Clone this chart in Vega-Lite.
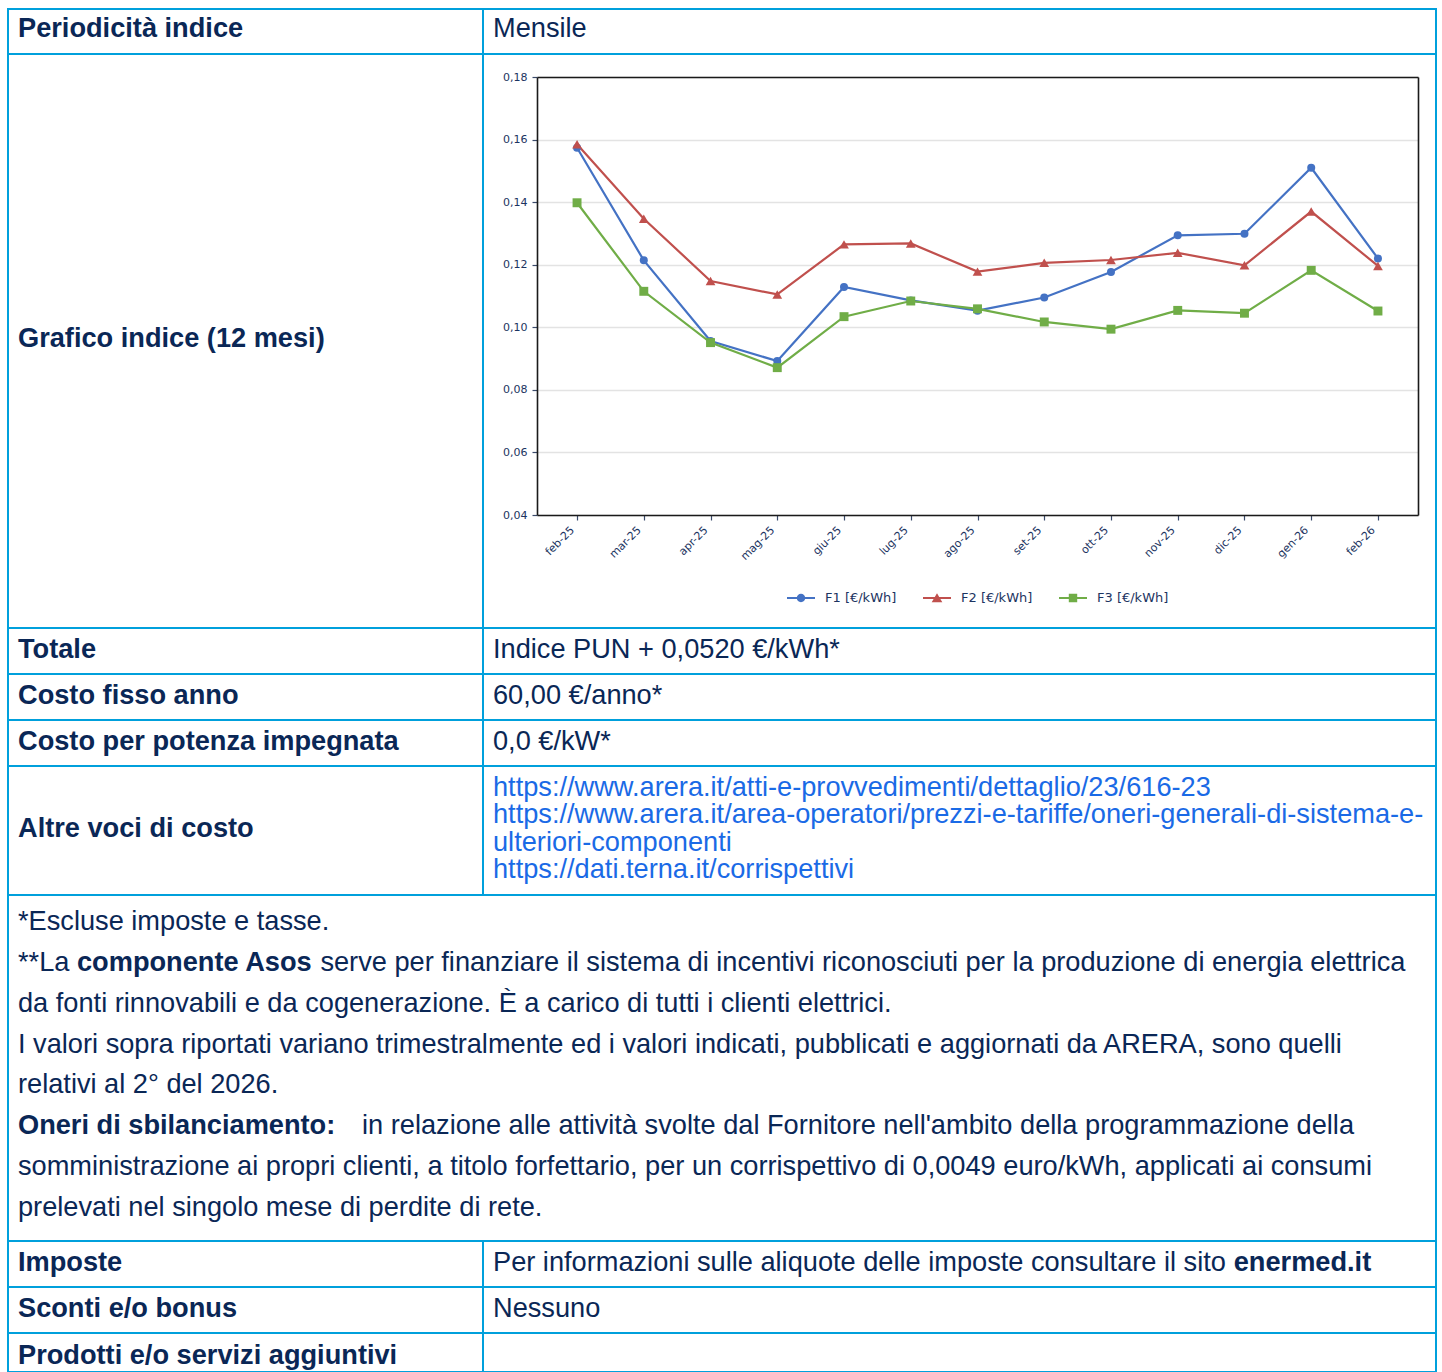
{
  "$schema": "https://vega.github.io/schema/vega-lite/v6.json",
  "background": "white",
  "padding": {"left": 7, "top": 7, "right": 5, "bottom": 0},
  "spacing": 0,
  "bounds": "flush",
  "config": {
    "view": {"stroke": "#00a0dc", "strokeWidth": 2},
    "text": {"font": "Liberation Sans", "fontSize": 27.2, "color": "#0a2756", "align": "left", "baseline": "alphabetic", "dy": 6.5},
    "rule": {"color": "#00a0dc", "strokeWidth": 2}
  },
  "vconcat": [
    {
      "width": 1428, "height": 45,
      "layer": [
        {"data": {"values": [{}]}, "mark": "rule", "encoding": {"x": {"value": 475}}},
        {"data": {"values": [{"t": "Periodicità indice"}]}, "mark": {"type": "text", "fontWeight": "bold", "dy": 5.5}, "encoding": {"text": {"field": "t"}, "x": {"value": 10}}},
        {"data": {"values": [{"t": "Mensile"}]}, "mark": {"type": "text", "dy": 5.5}, "encoding": {"text": {"field": "t"}, "x": {"value": 485}}}
      ]
    },
    {
      "width": 1428, "height": 574,
      "resolve": {"axis": {"x": "independent", "y": "independent"}},
      "layer": [
        {"data": {"values": [{}]}, "mark": "rule", "encoding": {"x": {"value": 475}}},
        {"data": {"values": [{"t": "Grafico indice (12 mesi)"}]}, "mark": {"type": "text", "fontWeight": "bold", "dy": 5.5}, "encoding": {"text": {"field": "t"}, "x": {"value": 10}}},
        {
          "data": {"name": "indice"},
          "mark": {"type": "line", "strokeWidth": 2.2},
          "encoding": {
            "x": {
              "field": "mese", "type": "ordinal",
              "sort": ["feb-25", "mar-25", "apr-25", "mag-25", "giu-25", "lug-25", "ago-25", "set-25", "ott-25", "nov-25", "dic-25", "gen-26", "feb-26"],
              "scale": {"type": "point", "padding": 0.6, "range": [529, 1410]},
              "axis": {"orient": "bottom", "offset": -113, "title": null, "domain": true, "domainColor": "#1a1a1a", "domainWidth": 1.6, "grid": false, "labelAngle": -45, "labelAlign": "right", "labelBaseline": "top", "labelFont": "DejaVu Sans", "labelFontSize": 11, "labelColor": "#1c3461", "tickColor": "#3a4a6a", "tickSize": 5, "tickWidth": 1.2, "labelPadding": 4, "labelOffset": -9}
            },
            "y": {
              "field": "valore", "type": "quantitative",
              "scale": {"domain": [0.04, 0.18], "nice": false, "zero": false, "range": [461, 23]},
              "axis": {"orient": "left", "offset": -529, "title": null, "domain": true, "domainColor": "#1a1a1a", "domainWidth": 1.6, "values": [0.04, 0.06, 0.08, 0.10, 0.12, 0.14, 0.16, 0.18], "labelExpr": "replace(format(datum.value, '.2f'), '.', ',')", "grid": true, "gridColor": "#e3e3e3", "gridWidth": 1.5, "tickColor": "#3a4a6a", "tickSize": 5, "tickWidth": 1.2, "labelPadding": 5, "labelFont": "DejaVu Sans", "labelFontSize": 11, "labelColor": "#1c3461"}
            },
            "color": {
              "field": "serie", "type": "nominal",
              "scale": {"domain": ["F1 [€/kWh]", "F2 [€/kWh]", "F3 [€/kWh]"], "range": ["#4472c4", "#c0504d", "#70ad47"]},
              "legend": {
                "title": null, "orient": "none", "legendX": 779, "legendY": 575, "direction": "horizontal",
                "symbolSize": 784, "symbolStrokeWidth": 0, "labelFont": "DejaVu Sans", "labelFontSize": 13, "labelColor": "#1c3461",
                "labelOffset": 10, "columnPadding": 26, "padding": 0,
                "encode": {
                  "symbols": {
                    "update": {
                      "shape": {"signal": "datum.value === 'F1 [€/kWh]' ? 'M-1,-0.075L1,-0.075L1,0.075L-1,0.075Z M0.3,0A0.3,0.3,0,1,1,-0.3,0A0.3,0.3,0,1,1,0.3,0Z' : datum.value === 'F2 [€/kWh]' ? 'M-1,-0.075L1,-0.075L1,0.075L-1,0.075Z M0,-0.34L0.38,0.3L-0.38,0.3Z' : 'M-1,-0.075L1,-0.075L1,0.075L-1,0.075Z M-0.3,-0.3L0.3,-0.3L0.3,0.3L-0.3,0.3Z'"},
                      "fill": {"signal": "datum.value === 'F1 [€/kWh]' ? '#4472c4' : datum.value === 'F2 [€/kWh]' ? '#c0504d' : '#70ad47'"},
                      "fillOpacity": {"value": 1},
                      "strokeWidth": {"value": 0},
                      "opacity": {"value": 1}
                    }
                  }
                }
              }
            }
          }
        },
        {
          "data": {"name": "indice"},
          "transform": [{"filter": "datum.serie === 'F1 [€/kWh]'"}],
          "mark": {"type": "point", "shape": "circle", "size": 64, "filled": true, "opacity": 1},
          "encoding": {
            "x": {
              "field": "mese", "type": "ordinal",
              "sort": ["feb-25", "mar-25", "apr-25", "mag-25", "giu-25", "lug-25", "ago-25", "set-25", "ott-25", "nov-25", "dic-25", "gen-26", "feb-26"],
              "axis": {"orient": "top", "offset": -23, "title": null, "domain": true, "domainColor": "#1a1a1a", "domainWidth": 1.6, "labels": false, "ticks": false, "grid": false}
            },
            "y": {
              "field": "valore", "type": "quantitative",
              "axis": {"orient": "right", "offset": -18, "title": null, "domain": true, "domainColor": "#1a1a1a", "domainWidth": 1.6, "labels": false, "ticks": false, "grid": false}
            },
            "color": {"field": "serie", "type": "nominal"}
          }
        },
        {
          "data": {"name": "indice"},
          "transform": [{"filter": "datum.serie === 'F2 [€/kWh]'"}],
          "mark": {"type": "point", "shape": "triangle-up", "size": 95, "filled": true, "opacity": 1},
          "encoding": {
            "x": {"field": "mese", "type": "ordinal", "sort": ["feb-25", "mar-25", "apr-25", "mag-25", "giu-25", "lug-25", "ago-25", "set-25", "ott-25", "nov-25", "dic-25", "gen-26", "feb-26"], "axis": null},
            "y": {"field": "valore", "type": "quantitative", "axis": null},
            "color": {"field": "serie", "type": "nominal"}
          }
        },
        {
          "data": {"name": "indice"},
          "transform": [{"filter": "datum.serie === 'F3 [€/kWh]'"}],
          "mark": {"type": "point", "shape": "square", "size": 80, "filled": true, "opacity": 1},
          "encoding": {
            "x": {"field": "mese", "type": "ordinal", "sort": ["feb-25", "mar-25", "apr-25", "mag-25", "giu-25", "lug-25", "ago-25", "set-25", "ott-25", "nov-25", "dic-25", "gen-26", "feb-26"], "axis": null},
            "y": {"field": "valore", "type": "quantitative", "axis": null},
            "color": {"field": "serie", "type": "nominal"}
          }
        }
      ]
    },
    {
      "width": 1428, "height": 46,
      "layer": [
        {"data": {"values": [{}]}, "mark": "rule", "encoding": {"x": {"value": 475}}},
        {"data": {"values": [{"t": "Totale"}]}, "mark": {"type": "text", "fontWeight": "bold"}, "encoding": {"text": {"field": "t"}, "x": {"value": 10}}},
        {"data": {"values": [{"t": "Indice PUN + 0,0520 €/kWh*"}]}, "mark": {"type": "text"}, "encoding": {"text": {"field": "t"}, "x": {"value": 485}}}
      ]
    },
    {
      "width": 1428, "height": 46,
      "layer": [
        {"data": {"values": [{}]}, "mark": "rule", "encoding": {"x": {"value": 475}}},
        {"data": {"values": [{"t": "Costo fisso anno"}]}, "mark": {"type": "text", "fontWeight": "bold"}, "encoding": {"text": {"field": "t"}, "x": {"value": 10}}},
        {"data": {"values": [{"t": "60,00 €/anno*"}]}, "mark": {"type": "text"}, "encoding": {"text": {"field": "t"}, "x": {"value": 485}}}
      ]
    },
    {
      "width": 1428, "height": 46,
      "layer": [
        {"data": {"values": [{}]}, "mark": "rule", "encoding": {"x": {"value": 475}}},
        {"data": {"values": [{"t": "Costo per potenza impegnata"}]}, "mark": {"type": "text", "fontWeight": "bold"}, "encoding": {"text": {"field": "t"}, "x": {"value": 10}}},
        {"data": {"values": [{"t": "0,0 €/kW*"}]}, "mark": {"type": "text"}, "encoding": {"text": {"field": "t"}, "x": {"value": 485}}}
      ]
    },
    {
      "width": 1428, "height": 129,
      "layer": [
        {"data": {"values": [{}]}, "mark": "rule", "encoding": {"x": {"value": 475}}},
        {"data": {"values": [{"t": "Altre voci di costo"}]}, "mark": {"type": "text", "fontWeight": "bold"}, "encoding": {"text": {"field": "t"}, "x": {"value": 10}}},
        {
          "data": {"values": [
            {"n": 1, "t": "https://www.arera.it/atti-e-provvedimenti/dettaglio/23/616-23"},
            {"n": 2, "t": "https://www.arera.it/area-operatori/prezzi-e-tariffe/oneri-generali-di-sistema-e-"},
            {"n": 3, "t": "ulteriori-componenti"},
            {"n": 4, "t": "https://dati.terna.it/corrispettivi"}
          ]},
          "mark": {"type": "text", "color": "#1a6ae6"},
          "encoding": {"text": {"field": "t"}, "x": {"value": 485}, "y": {"field": "n", "type": "ordinal", "scale": {"type": "point", "padding": 0.88}, "axis": null}}
        }
      ]
    },
    {
      "width": 1428, "height": 346,
      "data": {"values": [
        {"n": 1, "s": "a", "t": "*Escluse imposte e tasse."},
        {"n": 2, "s": "a", "t": "**La"},
        {"n": 2, "s": "b", "t": "componente Asos"},
        {"n": 2, "s": "c", "t": "serve per finanziare il sistema di incentivi riconosciuti per la produzione di energia elettrica"},
        {"n": 3, "s": "a", "t": "da fonti rinnovabili e da cogenerazione. È a carico di tutti i clienti elettrici."},
        {"n": 4, "s": "a", "t": "I valori sopra riportati variano trimestralmente ed i valori indicati, pubblicati e aggiornati da ARERA, sono quelli"},
        {"n": 5, "s": "a", "t": "relativi al 2° del 2026."},
        {"n": 6, "s": "b", "t": "Oneri di sbilanciamento:"},
        {"n": 6, "s": "c", "t": "in relazione alle attività svolte dal Fornitore nell'ambito della programmazione della"},
        {"n": 7, "s": "a", "t": "somministrazione ai propri clienti, a titolo forfettario, per un corrispettivo di 0,0049 euro/kWh, applicati ai consumi"},
        {"n": 8, "s": "a", "t": "prelevati nel singolo mese di perdite di rete."}
      ]},
      "encoding": {
        "y": {"field": "n", "type": "ordinal", "scale": {"type": "point", "padding": 0.72}, "axis": null},
        "text": {"field": "t"}
      },
      "layer": [
        {"transform": [{"filter": "datum.s === 'a'"}], "mark": {"type": "text", "dy": 5}, "encoding": {"x": {"value": 10}}},
        {"transform": [{"filter": "datum.n === 2 && datum.s === 'b'"}], "mark": {"type": "text", "fontWeight": "bold", "dy": 5}, "encoding": {"x": {"value": 69}}},
        {"transform": [{"filter": "datum.n === 2 && datum.s === 'c'"}], "mark": {"type": "text", "dy": 5}, "encoding": {"x": {"value": 312.4}}},
        {"transform": [{"filter": "datum.n === 6 && datum.s === 'b'"}], "mark": {"type": "text", "fontWeight": "bold", "dy": 5}, "encoding": {"x": {"value": 10}}},
        {"transform": [{"filter": "datum.n === 6 && datum.s === 'c'"}], "mark": {"type": "text", "dy": 5}, "encoding": {"x": {"value": 354}}}
      ]
    },
    {
      "width": 1428, "height": 46,
      "layer": [
        {"data": {"values": [{}]}, "mark": "rule", "encoding": {"x": {"value": 475}}},
        {"data": {"values": [{"t": "Imposte"}]}, "mark": {"type": "text", "fontWeight": "bold"}, "encoding": {"text": {"field": "t"}, "x": {"value": 10}}},
        {"data": {"values": [{"t": "Per informazioni sulle aliquote delle imposte consultare il sito"}]}, "mark": {"type": "text"}, "encoding": {"text": {"field": "t"}, "x": {"value": 485}}},
        {"data": {"values": [{"t": "enermed.it"}]}, "mark": {"type": "text", "fontWeight": "bold"}, "encoding": {"text": {"field": "t"}, "x": {"value": 1225.7}}}
      ]
    },
    {
      "width": 1428, "height": 46,
      "layer": [
        {"data": {"values": [{}]}, "mark": "rule", "encoding": {"x": {"value": 475}}},
        {"data": {"values": [{"t": "Sconti e/o bonus"}]}, "mark": {"type": "text", "fontWeight": "bold"}, "encoding": {"text": {"field": "t"}, "x": {"value": 10}}},
        {"data": {"values": [{"t": "Nessuno"}]}, "mark": {"type": "text"}, "encoding": {"text": {"field": "t"}, "x": {"value": 485}}}
      ]
    },
    {
      "width": 1428, "height": 39,
      "layer": [
        {"data": {"values": [{}]}, "mark": "rule", "encoding": {"x": {"value": 475}}},
        {"data": {"values": [{"t": "Prodotti e/o servizi aggiuntivi"}]}, "mark": {"type": "text", "fontWeight": "bold", "dy": 11}, "encoding": {"text": {"field": "t"}, "x": {"value": 10}}}
      ]
    }
  ],
  "datasets": {
    "indice": [
      {"mese": "feb-25", "serie": "F1 [€/kWh]", "valore": 0.1574},
      {"mese": "mar-25", "serie": "F1 [€/kWh]", "valore": 0.1214},
      {"mese": "apr-25", "serie": "F1 [€/kWh]", "valore": 0.0956},
      {"mese": "mag-25", "serie": "F1 [€/kWh]", "valore": 0.0892},
      {"mese": "giu-25", "serie": "F1 [€/kWh]", "valore": 0.1129},
      {"mese": "lug-25", "serie": "F1 [€/kWh]", "valore": 0.1086},
      {"mese": "ago-25", "serie": "F1 [€/kWh]", "valore": 0.1053},
      {"mese": "set-25", "serie": "F1 [€/kWh]", "valore": 0.1095},
      {"mese": "ott-25", "serie": "F1 [€/kWh]", "valore": 0.1177},
      {"mese": "nov-25", "serie": "F1 [€/kWh]", "valore": 0.1294},
      {"mese": "dic-25", "serie": "F1 [€/kWh]", "valore": 0.1299},
      {"mese": "gen-26", "serie": "F1 [€/kWh]", "valore": 0.1510},
      {"mese": "feb-26", "serie": "F1 [€/kWh]", "valore": 0.1220},
      {"mese": "feb-25", "serie": "F2 [€/kWh]", "valore": 0.1585},
      {"mese": "mar-25", "serie": "F2 [€/kWh]", "valore": 0.1347},
      {"mese": "apr-25", "serie": "F2 [€/kWh]", "valore": 0.1148},
      {"mese": "mag-25", "serie": "F2 [€/kWh]", "valore": 0.1105},
      {"mese": "giu-25", "serie": "F2 [€/kWh]", "valore": 0.1265},
      {"mese": "lug-25", "serie": "F2 [€/kWh]", "valore": 0.1268},
      {"mese": "ago-25", "serie": "F2 [€/kWh]", "valore": 0.1178},
      {"mese": "set-25", "serie": "F2 [€/kWh]", "valore": 0.1206},
      {"mese": "ott-25", "serie": "F2 [€/kWh]", "valore": 0.1215},
      {"mese": "nov-25", "serie": "F2 [€/kWh]", "valore": 0.1238},
      {"mese": "dic-25", "serie": "F2 [€/kWh]", "valore": 0.1198},
      {"mese": "gen-26", "serie": "F2 [€/kWh]", "valore": 0.1370},
      {"mese": "feb-26", "serie": "F2 [€/kWh]", "valore": 0.1196},
      {"mese": "feb-25", "serie": "F3 [€/kWh]", "valore": 0.1398},
      {"mese": "mar-25", "serie": "F3 [€/kWh]", "valore": 0.1115},
      {"mese": "apr-25", "serie": "F3 [€/kWh]", "valore": 0.0951},
      {"mese": "mag-25", "serie": "F3 [€/kWh]", "valore": 0.0871},
      {"mese": "giu-25", "serie": "F3 [€/kWh]", "valore": 0.1034},
      {"mese": "lug-25", "serie": "F3 [€/kWh]", "valore": 0.1084},
      {"mese": "ago-25", "serie": "F3 [€/kWh]", "valore": 0.1059},
      {"mese": "set-25", "serie": "F3 [€/kWh]", "valore": 0.1017},
      {"mese": "ott-25", "serie": "F3 [€/kWh]", "valore": 0.0994},
      {"mese": "nov-25", "serie": "F3 [€/kWh]", "valore": 0.1054},
      {"mese": "dic-25", "serie": "F3 [€/kWh]", "valore": 0.1045},
      {"mese": "gen-26", "serie": "F3 [€/kWh]", "valore": 0.1182},
      {"mese": "feb-26", "serie": "F3 [€/kWh]", "valore": 0.1052}
    ]
  }
}
